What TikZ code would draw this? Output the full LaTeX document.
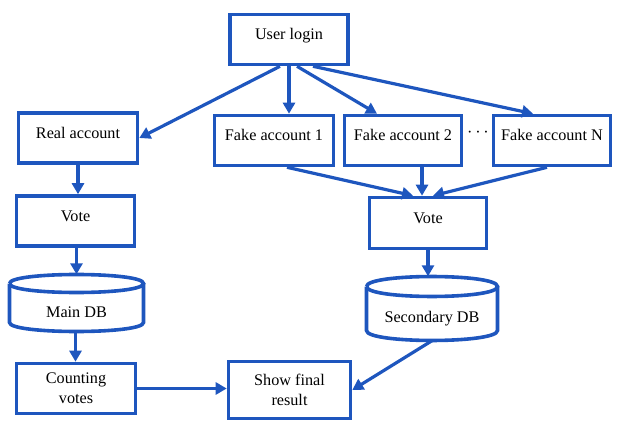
\documentclass[tikz,border=0pt]{standalone}
\usepackage{fontspec}
\setmainfont{Liberation Serif}
\usetikzlibrary{arrows.meta}
\definecolor{dblue}{RGB}{30,86,190}
\begin{document}
\begin{tikzpicture}[x=1pt,y=-1pt,
  txt/.style={font=\fontsize{16.2}{20}\selectfont\rmfamily},
  box/.style={txt, draw=dblue, line width=3.6pt, rectangle, minimum width=119pt, minimum height=50pt, inner sep=0pt, text height=10pt, text depth=9pt},
  box2/.style={txt, draw=dblue, line width=3.6pt, rectangle, minimum width=119pt, minimum height=50pt, inner sep=0pt, align=center},
  dbnode/.style={txt, rectangle, inner sep=0pt, text height=28pt, text depth=0pt},
  cyl/.style={draw=dblue, line width=3.6pt},
  arr/.style={draw=dblue, line width=3.2pt, -{Triangle[length=11pt,width=12pt]}}]
\useasboundingbox (0,0) rectangle (618,422);

\node[box, minimum width=118pt] (login) at (289,39.5) {User login};
\node[box] (real) at (78,138) {Real account};
\node[box] (fa1) at (274,140.5) {Fake account 1};
\node[box, minimum width=117pt] (fa2) at (403,140.5) {Fake account 2};
\node[box, minimum width=117pt] (fan) at (552,140.5) {Fake account N};
\node[txt] (dots) at (478,134) {\textperiodcentered\,\textperiodcentered\,\textperiodcentered};
\node[box, minimum width=118pt] (vote1) at (75.5,221) {Vote};
\node[box, minimum width=117pt, minimum height=51pt] (vote2) at (428,223) {Vote};

% cylinders
\node[dbnode, minimum width=134pt, minimum height=57pt] (maindb) at (76.5,303) {Main DB};
\draw[cyl] (9.5,283.5) .. controls (9.5,271.5) and (143.5,271.5) .. (143.5,283.5)
           .. controls (143.5,295.5) and (9.5,295.5) .. (9.5,283.5);
\draw[cyl] (9.5,283.5) -- (9.5,322.5) .. controls (9.5,334.5) and (143.5,334.5) .. (143.5,322.5) -- (143.5,283.5);

\node[dbnode, minimum width=131pt, minimum height=64pt] (secdb) at (432,308.5) {Secondary DB};
\draw[cyl] (366.5,286.5) .. controls (366.5,273.2) and (497.5,273.2) .. (497.5,286.5)
           .. controls (497.5,299.8) and (366.5,299.8) .. (366.5,286.5);
\draw[cyl] (366.5,286.5) -- (366.5,330.5) .. controls (366.5,343.8) and (497.5,343.8) .. (497.5,330.5) -- (497.5,286.5);

\node[box2] (count) at (76,388.5) {Counting\\votes};
\node[box2, minimum width=122pt, minimum height=57pt] (show) at (289.5,390) {Show final\\result};

% connectors
\draw[arr] ([xshift=-9pt]login.south) -- (real.east);
\draw[arr] (login.south) -- (login.south |- fa1.north);
\draw[arr] ([xshift=8pt]login.south) -- ([xshift=-26pt]fa2.north);
\draw[arr] ([xshift=24pt]login.south) -- ([xshift=-19pt]fan.north);

\draw[arr] (real.south) -- (real.south |- vote1.north);
\draw[arr] ([xshift=1pt]vote1.south) -- ([xshift=1pt]vote1.south |- maindb.north);
\draw[arr] ([xshift=-1pt]maindb.south) -- ([xshift=-1pt]maindb.south |- count.north);
\draw[arr] (count.east) -- (count.east -| show.west);

\draw[arr] ([xshift=13pt]fa1.south) -- ([xshift=-15pt]vote2.north);
\draw[arr] ([xshift=-6pt]vote2.north |- fa2.south) -- ([xshift=-6pt]vote2.north);
\draw[arr] ([xshift=-5pt]fan.south) -- ([xshift=5pt]vote2.north);
\draw[arr] (vote2.south) -- (vote2.south |- secdb.north);
\draw[arr] (secdb.south) -- (show.east);
\end{tikzpicture}
\end{document}
